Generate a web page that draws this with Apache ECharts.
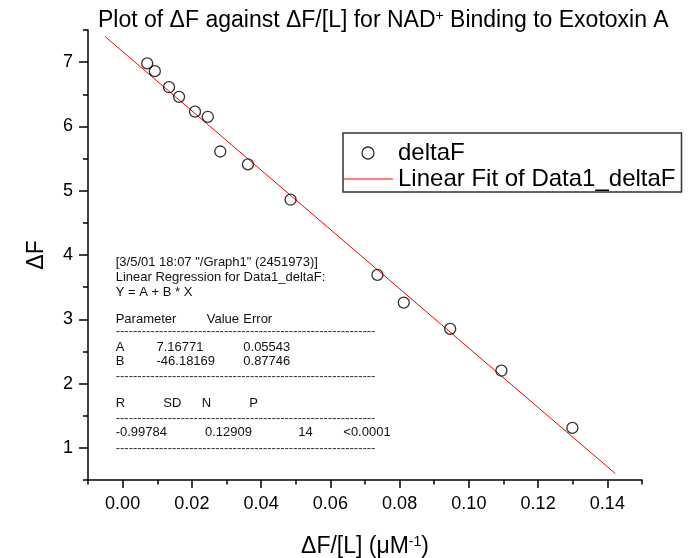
<!DOCTYPE html>
<html><head><meta charset="utf-8">
<script src="https://cdn.jsdelivr.net/npm/echarts@6/dist/echarts.min.js"></script>
<style>html,body{margin:0;padding:0;background:#fff}#c{width:691px;height:558px}</style>
</head><body><div id="c"></div>
<script>
// ---- data ----
const deltaFOverL = [0.0071, 0.0093, 0.0134, 0.0163, 0.0209, 0.0246, 0.0282, 0.0362, 0.0485, 0.0736, 0.0812, 0.0946, 0.1094, 0.1299];
const deltaF      = [6.98,   6.86,   6.61,   6.46,   6.23,   6.15,   5.61,   5.41,   4.86,   3.69,   3.26,   2.85,   2.20,   1.31];
const fitX = [-0.0051, 0.1423];
const fitY = [7.40, 0.60];
const xMajorTicks = [0.00, 0.02, 0.04, 0.06, 0.08, 0.10, 0.12, 0.14];
const xMinorTicks = [-0.01, 0.01, 0.03, 0.05, 0.07, 0.09, 0.11, 0.13, 0.15];
const yMajorTicks = [1, 2, 3, 4, 5, 6, 7];
const yMinorTicks = [0.5, 1.5, 2.5, 3.5, 4.5, 5.5, 6.5, 7.5];
const seriesNames = ['deltaF', 'Linear Fit of Data1_deltaF'];
const dashes = '------------------------------------------------------------';
const noteTexts = [
  '[3/5/01 18:07 "/Graph1" (2451973)]',
  'Linear Regression for Data1_deltaF:',
  'Y = A + B * X',
  'Parameter', 'Value', 'Error',
  'A', '7.16771', '0.05543',
  'B', '-46.18169', '0.87746',
  'R', 'SD', 'N', 'P',
  '-0.99784', '0.12909', '14', '<0.0001'
];

// ---- layout (positions only) ----
const noteLayout = [
  [115.7, 262], [115.7, 277.5], [115.7, 292.5],
  [115.7, 319.5], [206.7, 319.5], [243.3, 319.5],
  [115.7, 347.3], [156.5, 347.3], [243.3, 347.3],
  [115.7, 361], [156.5, 361], [243.3, 361],
  [115.7, 403.3], [163.3, 403.3], [201.7, 403.3], [249.3, 403.3],
  [115.7, 432.7], [205, 432.7], [298.3, 432.7], [343.3, 432.7]
];
const dashY = [331.7, 376.7, 418.3, 448.3];

const FONT = "'Liberation Sans', Arial, Helvetica, sans-serif";
const graphics = [];
noteTexts.forEach((t, i) => {
  graphics.push({type: 'text', x: noteLayout[i][0], y: noteLayout[i][1], silent: true,
    style: {text: t, font: '13px ' + FONT, fill: '#111', verticalAlign: 'middle', textVerticalAlign: 'middle'}});
});
dashY.forEach(y => {
  graphics.push({type: 'text', x: 115.7, y: y, silent: true,
    style: {text: dashes, font: '13px ' + FONT, fill: '#333', verticalAlign: 'middle', textVerticalAlign: 'middle'}});
});

const chart = echarts.init(document.getElementById('c'));
const axisColor = '#000';
const supStyle = {fontSize: 14, verticalAlign: 'top', lineHeight: 13, color: '#000', fontFamily: FONT};
chart.setOption({
  animation: false,
  backgroundColor: '#fff',
  title: {
    text: 'Plot of ΔF against ΔF/[L] for NAD{sup|+} Binding to Exotoxin A',
    left: 93, top: 4,
    textStyle: {fontSize: 23, fontWeight: 'normal', color: '#000', fontFamily: FONT, rich: {sup: supStyle}}
  },
  grid: {left: 88, right: 49, top: 30, bottom: 78, containLabel: false, outerBoundsMode: 'none'},
  legend: {
    orient: 'vertical', left: 343, top: 133,
    padding: [8, 6, 1, 0], itemGap: 2, itemWidth: 50, itemHeight: 12,
    borderColor: '#333', borderWidth: 1.5, backgroundColor: '#fff',
    textStyle: {fontSize: 24, fontFamily: FONT, color: '#000', lineHeight: 24},
    data: [
      {name: seriesNames[0], icon: 'circle', itemStyle: {color: 'rgba(255,255,255,0)', borderColor: '#000', borderWidth: 1.3}},
      {name: seriesNames[1], icon: 'path://M0,0H50V1H0Z', itemStyle: {color: '#ff0000', borderWidth: 0}}
    ]
  },
  xAxis: [{
    type: 'value', min: -0.01, max: 0.15, gridIndex: 0, position: 'bottom',
    axisLine: {show: true, onZero: false, lineStyle: {color: axisColor, width: 1.5}},
    axisTick: {show: true, customValues: xMajorTicks, length: 8, lineStyle: {color: axisColor, width: 1.5}},
    axisLabel: {show: true, customValues: xMajorTicks, formatter: v => v.toFixed(2), fontSize: 18, margin: 15, color: '#000', fontFamily: FONT},
    splitLine: {show: false},
    name: 'ΔF/[L] (μM{sup|-1})', nameLocation: 'middle', nameGap: 55,
    nameTextStyle: {fontSize: 23, color: '#000', fontFamily: FONT, rich: {sup: supStyle}}
  }, {
    type: 'value', min: -0.01, max: 0.15, gridIndex: 0, position: 'bottom',
    axisLine: {show: false, onZero: false},
    axisTick: {show: true, customValues: xMinorTicks, length: 4.5, lineStyle: {color: axisColor, width: 1.5}},
    axisLabel: {show: false},
    splitLine: {show: false}
  }],
  yAxis: [{
    type: 'value', min: 0.5, max: 7.5, gridIndex: 0, position: 'left',
    axisLine: {show: true, onZero: false, lineStyle: {color: axisColor, width: 1.5}},
    axisTick: {show: true, customValues: yMajorTicks, length: 9, lineStyle: {color: axisColor, width: 1.5}},
    axisLabel: {show: true, customValues: yMajorTicks, fontSize: 18, margin: 15, color: '#000', fontFamily: FONT},
    splitLine: {show: false},
    name: 'ΔF', nameLocation: 'middle', nameGap: 40,
    nameTextStyle: {fontSize: 23, color: '#000', fontFamily: FONT}
  }, {
    type: 'value', min: 0.5, max: 7.5, gridIndex: 0, position: 'left',
    axisLine: {show: false, onZero: false},
    axisTick: {show: true, customValues: yMinorTicks, length: 5, lineStyle: {color: axisColor, width: 1.5}},
    axisLabel: {show: false},
    splitLine: {show: false}
  }],
  series: [{
    name: seriesNames[1], type: 'line', xAxisIndex: 0, yAxisIndex: 0,
    data: fitX.map((x, i) => [x, fitY[i]]),
    symbol: 'none', lineStyle: {color: '#ff0000', width: 1}, itemStyle: {color: '#ff0000'}, z: 2
  }, {
    name: seriesNames[0], type: 'scatter', xAxisIndex: 0, yAxisIndex: 0,
    data: deltaFOverL.map((x, i) => [x, deltaF[i]]),
    symbol: 'circle', symbolSize: 11,
    itemStyle: {color: 'rgba(255,255,255,0)', borderColor: '#000', borderWidth: 1.3}, z: 3
  }],
  graphic: graphics
});
</script></body></html>
